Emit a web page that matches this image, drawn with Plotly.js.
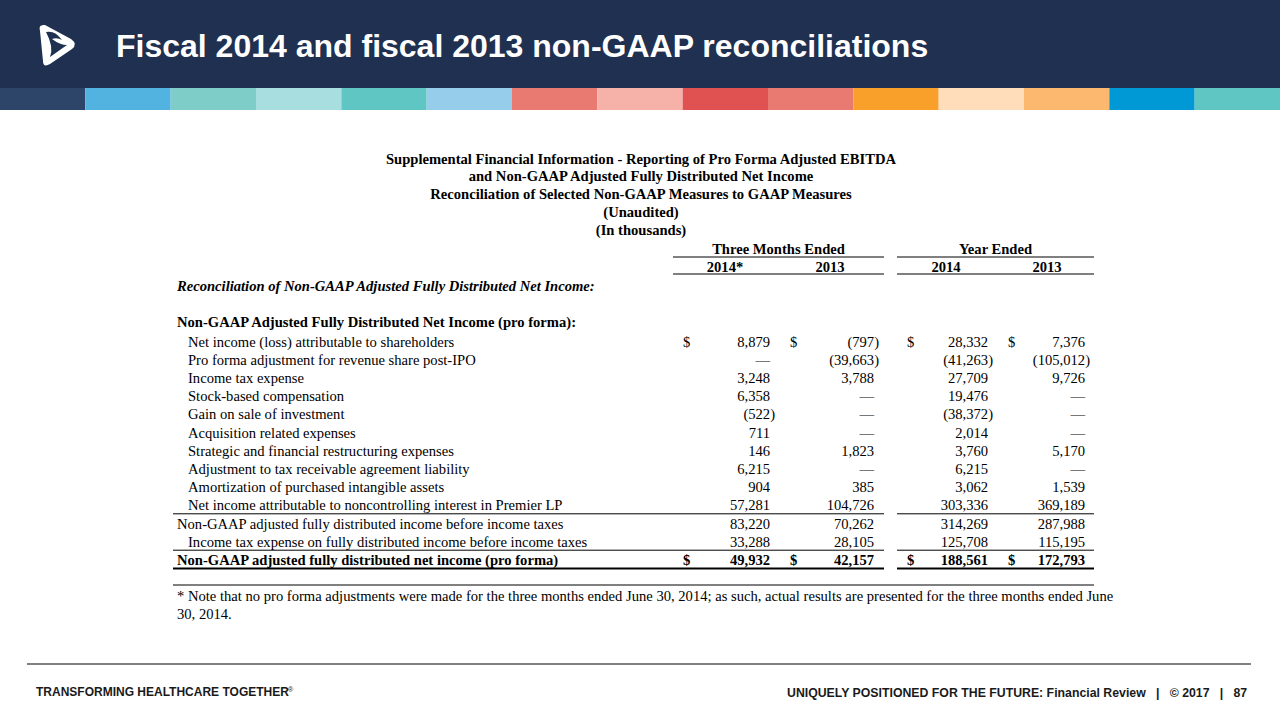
<!DOCTYPE html>
<html>
<head>
<meta charset="utf-8">
<script src="https://cdn.plot.ly/plotly-3.0.1.min.js"></script>
<style>html,body{margin:0;padding:0;background:#fff;}#chart{width:1280px;height:720px;}</style>
</head>
<body>
<div id="chart"></div>
<script>
// ---------------- DATA ----------------
const slideTitle = "Fiscal 2014 and fiscal 2013 non-GAAP reconciliations";
const tableTitleLines = [
  "Supplemental Financial Information - Reporting of Pro Forma Adjusted EBITDA",
  "and Non-GAAP Adjusted Fully Distributed Net Income",
  "Reconciliation of Selected Non-GAAP Measures to GAAP Measures",
  "(Unaudited)",
  "(In thousands)"
];
const periodGroups = ["Three Months Ended", "Year Ended"];
const columnYears = ["2014*", "2013", "2014", "2013"];
const sectionHeading = "Reconciliation of Non-GAAP Adjusted Fully Distributed Net Income:";
const blockHeading = "Non-GAAP Adjusted Fully Distributed Net Income (pro forma):";
const rowLabels = [
  "Net income (loss) attributable to shareholders",
  "Pro forma adjustment for revenue share post-IPO",
  "Income tax expense",
  "Stock-based compensation",
  "Gain on sale of investment",
  "Acquisition related expenses",
  "Strategic and financial restructuring expenses",
  "Adjustment to tax receivable agreement liability",
  "Amortization of purchased intangible assets",
  "Net income attributable to noncontrolling interest in Premier LP",
  "Non-GAAP adjusted fully distributed income before income taxes",
  "Income tax expense on fully distributed income before income taxes",
  "Non-GAAP adjusted fully distributed net income (pro forma)"
];
const rowKinds = ["item","item","item","item","item","item","item","item","item","item","subtotal","item","total"];
// null = no amount (shown as an em dash)
const threeMonths2014 = [8879, null, 3248, 6358, -522, 711, 146, 6215, 904, 57281, 83220, 33288, 49932];
const threeMonths2013 = [-797, -39663, 3788, null, null, null, 1823, null, 385, 104726, 70262, 28105, 42157];
const year2014 = [28332, -41263, 27709, 19476, -38372, 2014, 3760, 6215, 3062, 303336, 314269, 125708, 188561];
const year2013 = [7376, -105012, 9726, null, null, null, 5170, null, 1539, 369189, 287988, 115195, 172793];
const footnoteLines = [
  "* Note that no pro forma adjustments were made for the three months ended June 30, 2014; as such, actual results are presented for the three months ended June",
  "30, 2014."
];
const footerLeft = "TRANSFORMING HEALTHCARE TOGETHER";
const footerMark = "®";
const footerRight = "UNIQUELY POSITIONED FOR THE FUTURE: Financial Review   |   © 2017   |   87";

// ---------------- LAYOUT / STYLE ----------------
const SERIF = "Liberation Serif, Times New Roman, serif";
const SANS = "Liberation Sans, Arial, sans-serif";
const FS = 14.6;
const columns = [threeMonths2014, threeMonths2013, year2014, year2013];
const colRight = [775, 879, 993, 1090];   // right edge incl. closing paren
const parenW = 4.9;
const dollarX = [683, 790, 907, 1008];
const groupSpan = [[673, 884], [897, 1094]];
const tableLeft = 173;
function rowY(i) { return 343 + i * 18.2; }

const fmt = v => v === null ? "—" : (v < 0 ? "(" + Math.abs(v).toLocaleString("en-US") + ")" : v.toLocaleString("en-US"));
const bold = (s, k) => k === "total" ? "<b>" + s + "</b>" : s;

const traces = [];
function textTrace(xs, ys, texts, pos, font) {
  traces.push({
    type: "scatter", mode: "text", x: xs, y: ys, text: texts,
    textposition: pos, cliponaxis: false, hoverinfo: "skip", showlegend: false,
    textfont: Object.assign({family: SERIF, size: FS, color: "#000"}, font || {})
  });
}

// table title
textTrace(tableTitleLines.map(() => 641), tableTitleLines.map((_, i) => 160 + i * 17.8),
  tableTitleLines.map(s => "<b>" + s + "</b>"), "middle center");
// group headers
textTrace(groupSpan.map(g => (g[0] + g[1]) / 2), groupSpan.map(() => 250),
  periodGroups.map(s => "<b>" + s + "</b>"), "middle center");
// year headers
const yearCenters = [725, 830, 946, 1047];
textTrace(yearCenters, yearCenters.map(() => 268), columnYears.map(s => "<b>" + s + "</b>"), "middle center");
// section headings
textTrace([177, 177], [287, 323], ["<b><i>" + sectionHeading + "</i></b>", "<b>" + blockHeading + "</b>"], "middle right");
// row labels
textTrace(rowLabels.map((_, i) => rowKinds[i] === "item" ? 188 : 177), rowLabels.map((_, i) => rowY(i)),
  rowLabels.map((s, i) => bold(s, rowKinds[i])), "middle right");
// value columns
columns.forEach((col, c) => {
  textTrace(col.map(v => (v !== null && v < 0) ? colRight[c] : colRight[c] - parenW),
    col.map((_, i) => rowY(i)),
    col.map((v, i) => bold(fmt(v), rowKinds[i])), "middle left");
});
// dollar signs on first and total rows
const dollarRows = [0, rowKinds.indexOf("total")];
dollarRows.forEach(r => {
  textTrace(dollarX, dollarX.map(() => rowY(r)), dollarX.map(() => bold("$", rowKinds[r])), "middle right");
});
// footnote
textTrace(footnoteLines.map(() => 177), footnoteLines.map((_, i) => 597 + i * 18), footnoteLines, "middle right");

// shapes
const shapes = [];
shapes.push({type: "rect", xref: "x", yref: "y", x0: 0, x1: 1280, y0: 0, y1: 88, fillcolor: "#1F3050", line: {width: 0}, layer: "below"});
const stripColors = ["#2C4569","#52B3E0","#7ECDC9","#A8DEE0","#5FC6C3","#96CDEB","#E97A71","#F6B1A8","#E05252","#E97A71","#F9A02A","#FFDDBB","#FDB870","#0099D6","#5FC6C3"];
stripColors.forEach((c, i) => {
  shapes.push({type: "rect", xref: "x", yref: "y", x0: i * 1280 / 15, x1: (i + 1) * 1280 / 15, y0: 88, y1: 110, fillcolor: c, line: {width: 0}, layer: "below"});
});
// logo
shapes.push({type: "path", xref: "x", yref: "y",
  path: "M40,31 Q38,24 45,25 L71,39 Q78,44 72,49 L50,64 Q43,68 43,61 Z",
  fillcolor: "#FFFFFF", line: {width: 0}});
shapes.push({type: "path", xref: "x", yref: "y",
  path: "M46,32 Q55,30 62,40 Q57,37 52,39 Q60,45 67,45 L50,57 Q54,47 46,32 Z",
  fillcolor: "#1F3050", line: {width: 0}});
// header underlines
groupSpan.forEach(g => {
  [257, 274].forEach(y => shapes.push({type: "line", xref: "x", yref: "y", x0: g[0], x1: g[1], y0: y, y1: y, line: {color: "#000", width: 1}}));
});
// row underlines
function underline(r, w) {
  const y = rowY(r) + 7;
  shapes.push({type: "line", xref: "x", yref: "y", x0: tableLeft, x1: groupSpan[0][1], y0: y, y1: y, line: {color: "#000", width: w}});
  shapes.push({type: "line", xref: "x", yref: "y", x0: groupSpan[1][0], x1: groupSpan[1][1], y0: y, y1: y, line: {color: "#000", width: w}});
}
underline(9, 1);
underline(11, 1);
underline(12, 2);
// footnote separator
shapes.push({type: "line", xref: "x", yref: "y", x0: tableLeft, x1: 1094, y0: 585, y1: 585, line: {color: "#000", width: 1}});
// footer line
shapes.push({type: "line", xref: "x", yref: "y", x0: 27, x1: 1251, y0: 664, y1: 664, line: {color: "#808080", width: 2}});

const annotations = [
  {xref: "x", yref: "y", x: 116, y: 46, xanchor: "left", yanchor: "middle", showarrow: false,
   text: "<b>" + slideTitle + "</b>", font: {family: SANS, size: 32, color: "#FFFFFF"}, borderpad: 0, borderwidth: 0},
  {xref: "x", yref: "y", x: 36, y: 692, xanchor: "left", yanchor: "middle", showarrow: false,
   text: "<b>" + footerLeft + "</b>", font: {family: SANS, size: 12, color: "#1a1a1a"}, borderpad: 0, borderwidth: 0},
  {xref: "x", yref: "y", x: 288, y: 689, xanchor: "left", yanchor: "middle", showarrow: false,
   text: footerMark, font: {family: SANS, size: 7, color: "#1a1a1a"}, borderpad: 0, borderwidth: 0},
  {xref: "x", yref: "y", x: 1247, y: 693, xanchor: "right", yanchor: "middle", showarrow: false,
   text: "<b>" + footerRight + "</b>", font: {family: SANS, size: 12.3, color: "#1a1a1a"}, borderpad: 0, borderwidth: 0}
];

const layout = {
  width: 1280, height: 720,
  margin: {l: 0, r: 0, t: 0, b: 0, pad: 0},
  paper_bgcolor: "#FFFFFF", plot_bgcolor: "#FFFFFF",
  xaxis: {range: [0, 1280], visible: false, fixedrange: true},
  yaxis: {range: [720, 0], visible: false, fixedrange: true},
  showlegend: false,
  shapes: shapes,
  annotations: annotations
};

Plotly.newPlot("chart", traces, layout, {displayModeBar: false, staticPlot: true});
</script>
</body>
</html>
